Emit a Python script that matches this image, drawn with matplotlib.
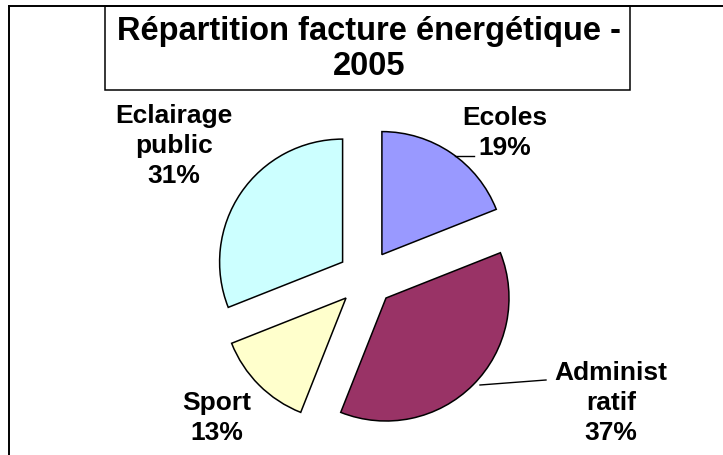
import matplotlib.pyplot as plt
from matplotlib.patches import Rectangle
from matplotlib.lines import Line2D

plt.rcParams['font.family'] = ['Liberation Sans', 'DejaVu Sans']

# data
categories = ['Ecoles', 'Administratif', 'Sport', 'Eclairage public']
label_texts = ['Ecoles', 'Administ\nratif', 'Sport', 'Eclairage\npublic']
values = [19, 37, 13, 31]
colors = ['#9999FF', '#993366', '#FFFFCC', '#CCFFFF']
title = 'Répartition facture énergétique -\n2005'

# layout (pixels)
W, H = 723, 456
CX, CY, R = 366, 279, 123
label_pos = [(505, 133), (611, 403), (217, 418), (174, 146)]
leaders = {0: [(455, 157), (474, 157)], 1: [(480, 386), (546, 381)]}


def to_data(px, py):
    return (px - CX) / R, (CY - py) / R


fig = plt.figure(figsize=(W / 100, H / 100), dpi=100)
ax = fig.add_axes([0, 0, 1, 1])

wedges, _ = ax.pie(values, colors=colors, startangle=90, counterclock=False,
                   explode=[0.23] * len(values),
                   wedgeprops=dict(edgecolor='black', linewidth=1.1))
ax.set_xlim(-CX / R, (W - CX) / R)
ax.set_ylim(-(H - CY) / R, CY / R)
ax.axis('off')

for i, (txt, val) in enumerate(zip(label_texts, values)):
    x, y = to_data(*label_pos[i])
    ax.text(x, y, f'{txt}\n{val}%', ha='center', va='center', ma='center',
            fontsize=19, fontweight='bold', linespacing=1.3)

for pts in leaders.values():
    xs, ys = zip(*[to_data(*p) for p in pts])
    ax.plot(xs, ys, color='black', linewidth=1)

# outer chart frame (left and top visible)
fig.add_artist(Line2D([9 / W, 9 / W], [0, 1 - 7 / H], transform=fig.transFigure,
                      color='black', linewidth=1.4))
fig.add_artist(Line2D([9 / W, 1], [1 - 7 / H, 1 - 7 / H], transform=fig.transFigure,
                      color='black', linewidth=1.4))

# title box
fig.add_artist(Rectangle((105 / W, 1 - 91 / H), (630 - 105) / W, (91 - 7) / H,
                         transform=fig.transFigure, facecolor='white',
                         edgecolor='black', linewidth=1.1))
fig.text(369 / W, 1 - 49 / H, title, ha='center', va='center', ma='center',
         fontsize=23.5, fontweight='bold', linespacing=1.2)

fig.savefig('out.png', dpi=100)
